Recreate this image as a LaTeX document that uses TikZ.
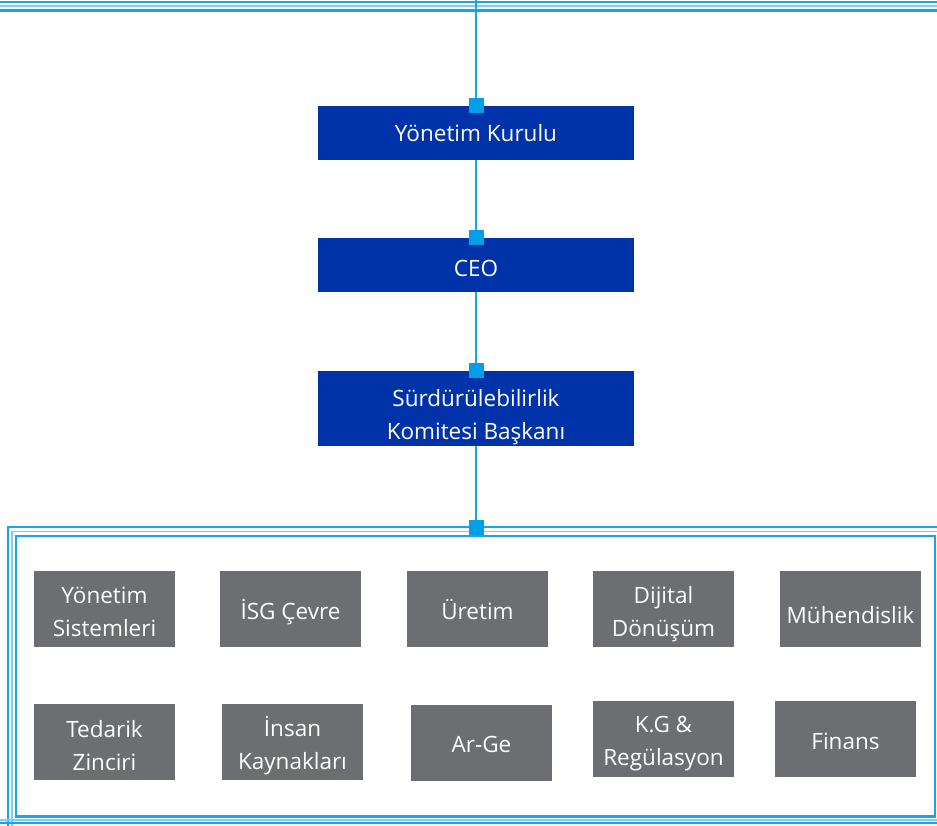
\documentclass[tikz,border=0pt]{standalone}
\usepackage{fontspec}
\setmainfont{Open Sans}
\usetikzlibrary{positioning}
\definecolor{lineblue}{HTML}{1AA3E8}
\definecolor{paleblue}{HTML}{7FCDF0}
\definecolor{knotblue}{HTML}{00A0E9}
\definecolor{boxblue}{HTML}{0033AA}
\definecolor{boxgray}{HTML}{6D6E71}

\begin{document}
\begin{tikzpicture}[x=1pt,y=-1pt,
	bluebox/.style={fill=boxblue,text=white,minimum width=316pt,inner sep=0pt,align=center,font=\fontsize{22.5}{33}\selectfont},
	graybox/.style={fill=boxgray,text=white,minimum width=141pt,minimum height=76pt,inner sep=0pt,align=center,font=\fontsize{22.5}{33}\selectfont},
	link/.style={draw=lineblue,line width=2.5pt},
	knot/.style={fill=knotblue,minimum size=15pt,inner sep=0pt},
	rim/.style={draw=lineblue,line width=2.2pt},
	thinrim/.style={draw=paleblue,line width=1.5pt}]
			\clip (0,0) rectangle (937,825);
			\fill[white] (0,0) rectangle (937,825);
			% frame lines
			\draw[rim] (-5,2) -- (945,2);
			\draw[thinrim] (-5,6) -- (945,6);
			\draw[rim] (-5,10.5) -- (945,10.5);
			\draw[rim] (8,840) -- (8,527) -- (945,527);
			\draw[thinrim] (12,840) -- (12,531.5) -- (945,531.5);
			\draw[rim] (16,536) rectangle (935,816.5);
			\draw[rim] (-5,823) -- (945,823);
			\draw[thinrim] (-5,820) -- (945,820);
			% chain
			\node[bluebox,minimum height=54pt,text height=22pt,text depth=6pt] (yk) at (476,133) {Yönetim Kurulu};
			\node[bluebox,minimum height=54pt,text height=25pt,text depth=3pt] (ceo) at (476,265) {CEO};
			\node[bluebox,minimum height=75pt,text height=62.5pt,text depth=1.5pt] (sk) at (476,408.5) {Sürdürülebilirlik\\Komitesi Başkanı};
			\coordinate (top) at (476,0);
			\coordinate (frametop) at (476,527);
			\draw[link] (top) -- (yk.north);
			\draw[link] (yk.south) -- (ceo.north);
			\draw[link] (ceo.south) -- (sk.north);
			\draw[link] (sk.south) -- (frametop);
			\foreach \a/\n in {yk.north/k1,ceo.north/k2,sk.north/k3,frametop/k4} \node[knot] (\n) at (\a) {};
			% departments, \o = last baseline below box centre
			\foreach \x/\y/\o/\n/\t in {104.5/609/27/ys/{Yönetim\\Sistemleri},290.5/609/10/isg/{İSG Çevre},477.5/609/10/ur/{Üretim},663.5/609/27/dd/{Dijital\\Dönüşüm},850.5/609/14/mh/{Mühendislik},104.5/742/28/tz/{Tedarik\\Zinciri},292.5/742/27/ik/{İnsan\\Kaynakları},481.5/742.5/9.5/ag/{Ar-Ge},663.5/739/26/kg/{K.G \&\\Regülasyon},845.5/739/10/fn/{Finans}}{
				\pgfmathsetmacro\th{32+\o}
				\pgfmathsetmacro\td{32-\o}
				\node[graybox,text height=\th pt,text depth=\td pt] (\n) at (\x,\y) {\t};
			}
		\end{tikzpicture}
\end{document}
